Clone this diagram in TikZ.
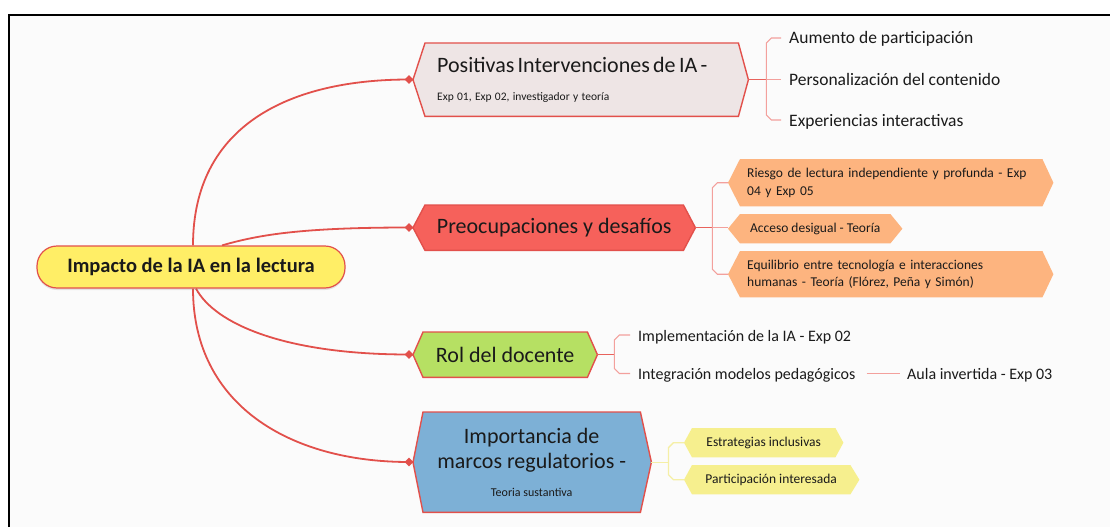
\documentclass[tikz,border=0pt]{standalone}
\usepackage{fontspec}
\setmainfont{Carlito}
\usetikzlibrary{shapes.geometric,calc,shadows}
\pgfdeclarelayer{back}
\pgfdeclarelayer{bg}
\pgfsetlayers{back,bg,main}
\definecolor{mainred}{HTML}{E2504B}
\definecolor{midred}{HTML}{E8625C}
\definecolor{pinkline}{HTML}{F3A09C}
\definecolor{n1fill}{HTML}{EEE5E5}
\definecolor{n2fill}{HTML}{F6615B}
\definecolor{n3fill}{HTML}{B6E063}
\definecolor{n4fill}{HTML}{7DB0D6}
\definecolor{orangefill}{HTML}{FDB47F}
\definecolor{yellowfill}{HTML}{F6EF8E}
\definecolor{yline}{HTML}{F5EFA6}
\definecolor{centerfill}{HTML}{FFEE66}
\definecolor{pagebg}{HTML}{FBFBFB}
\definecolor{txt}{HTML}{1A1A1A}
\newcommand\fsz[2]{\fontsize{#1}{#2}\selectfont}
\newcommand\hexbg[5]{%
  \begin{pgfonlayer}{bg}
  \path[fill=#4,draw=#5,line width=1.4pt,line join=miter] (#1.north west) -- (#1.north east) -- ($(#1.east)+(#3,0)$) -- (#1.south east) -- (#1.south west) -- ($(#1.west)+(-#2,0)$) -- cycle;
  \end{pgfonlayer}}
\tikzset{
  hexbox/.style={rectangle, inner sep=0pt, anchor=north west, text=txt},
  plain/.style={inner sep=0pt, anchor=base west, text=txt},
  mainline/.style={draw=mainred, line width=1.8pt},
  dot/.style={diamond, fill=mainred, inner sep=0pt, minimum size=9pt},
  stem/.style={draw=midred, line width=1.3pt},
  brk/.style={draw=pinkline, line width=1.1pt},
  ybrk/.style={draw=yline, line width=1.3pt},
}
\begin{document}
\begin{tikzpicture}[x=1pt,y=-1pt]
\useasboundingbox (0,0) rectangle (1110,527);
\begin{pgfonlayer}{back}
\fill[white] (0,0) rectangle (1110,527);
\fill[pagebg] (9,15) rectangle (1110,527);
\end{pgfonlayer}
\draw[black, line width=1.6pt] (9,527) -- (9,15) -- (1110,15);

% central node
\node[draw=mainred, fill=centerfill, line width=1.2pt, rounded corners=20pt,
      minimum width=308pt, minimum height=42pt, text=txt,
      drop shadow={shadow xshift=0pt, shadow yshift=-2pt, opacity=.2},
      font=\bfseries\fsz{20.5}{24}] (c) at (191,267) {Impacto de la IA en la lectura};

% main branch nodes
\node[hexbox, text width=289pt, inner xsep=12pt, minimum height=73pt, align=left] (n1) at (425,43)
  {\fsz{22}{26}\mbox{Positivas Intervenciones de IA -}\\[16pt]\fsz{11.5}{14}\mbox{Exp 01, Exp 02, investigador y teoría}};
\node[hexbox, minimum width=258pt, minimum height=45pt, font=\fsz{22}{26}] (n2) at (425,205) {Preocupaciones y desafíos};
\node[hexbox, minimum width=164pt, minimum height=45pt, font=\fsz{22}{26}] (n3) at (423,332) {Rol del docente};
\node[hexbox, minimum width=217pt, minimum height=100pt, align=center] (n4) at (423,412)
  {\fsz{22}{27}Importancia de\\[5pt]\fsz{22}{27}marcos regulatorios -\\[15pt]\fsz{12}{14}Teoria sustantiva};

\hexbg{n1}{12}{10}{n1fill}{mainred}
\hexbg{n2}{12}{12}{n2fill}{mainred}
\hexbg{n3}{10}{10}{n3fill}{mainred}
\hexbg{n4}{10}{11}{n4fill}{mainred}

% orange children
\node[hexbox, text width=288pt, inner xsep=7pt, minimum height=47pt, align=left, font=\fsz{13.5}{17.5}] (o1) at (740,159)
  {\mbox{Riesgo de lectura independiente y profunda - Exp}\\04 y Exp 05};
\node[hexbox, minimum width=150pt, minimum height=29pt, font=\fsz{13.5}{17.5}] (o2) at (740,214) {Acceso desigual - Teoría};
\node[hexbox, text width=288pt, inner xsep=7pt, minimum height=46pt, align=left, font=\fsz{13.5}{17}] (o3) at (740,251)
  {\mbox{Equilibrio entre tecnología e interacciones}\\\mbox{humanas - Teoría (Flórez, Peña y Simón)}};
\hexbg{o1}{12}{11}{orangefill}{none}
\hexbg{o2}{12}{12}{orangefill}{none}
\hexbg{o3}{12}{11}{orangefill}{none}

% yellow children
\node[hexbox, minimum width=143pt, minimum height=29pt, font=\fsz{13.5}{17}] (y1) at (692,428) {Estrategias inclusivas};
\node[hexbox, minimum width=158pt, minimum height=29pt, font=\fsz{13.5}{17}] (y2) at (692,465) {Participación interesada};
\hexbg{y1}{8}{8}{yellowfill}{none}
\hexbg{y2}{8}{9}{yellowfill}{none}

% plain text children
\node[plain, font=\fsz{17.5}{21}] (a1) at (789,44) {Aumento de participación};
\node[plain, font=\fsz{17.5}{21}] (a2) at (789,85) {Personalización del contenido};
\node[plain, font=\fsz{17.5}{21}] (a3) at (789,126) {Experiencias interactivas};
\node[plain, font=\fsz{16}{19}] (r1) at (638,341) {Implementación de la IA - Exp 02};
\node[plain, font=\fsz{16}{19}] (r2) at (638,379.5) {Integración modelos pedagógicos};
\node[plain, font=\fsz{16}{19}] (r3) at (907,379.5) {Aula invertida - Exp 03};

% diamonds and hexagon points
\node[dot] (d1) at (409,79.5) {};
\node[dot] (d2) at (409,227.5) {};
\node[dot] (d3) at (409,354.5) {};
\node[dot] (d4) at (409,462) {};
\coordinate (n1l) at ($(n1.west)+(-12,0)$);
\coordinate (n2l) at ($(n2.west)+(-12,0)$);
\coordinate (n3l) at ($(n3.west)+(-10,0)$);
\coordinate (n4l) at ($(n4.west)+(-10,0)$);
\coordinate (n1r) at ($(n1.east)+(10,0)$);
\coordinate (n2r) at ($(n2.east)+(12,0)$);
\coordinate (n3r) at ($(n3.east)+(10,0)$);
\coordinate (n4r) at ($(n4.east)+(11,0)$);
\coordinate (o1l) at ($(o1.west)+(-12,0)$);
\coordinate (o2l) at ($(o2.west)+(-12,0)$);
\coordinate (o3l) at ($(o3.west)+(-12,0)$);
\coordinate (y1l) at ($(y1.west)+(-8,0)$);
\coordinate (y2l) at ($(y2.west)+(-8,0)$);

% main curves
\begin{pgfonlayer}{bg}
\draw[mainline] ([xshift=2pt]c.north) .. controls (193,125) and (290,79.5) .. (d1.center);
\draw[mainline] ([xshift=31pt]c.north) .. controls (258,235) and (300,227.5) .. (d2.center);
\draw[mainline] ([xshift=5pt]c.south) .. controls (215,324) and (285,354.5) .. (d3.center);
\draw[mainline] ([xshift=2pt]c.south) .. controls (193,405) and (290,462) .. (d4.center);
\draw[mainline] (d1.center) -- (n1l);
\draw[mainline] (d2.center) -- (n2l);
\draw[mainline] (d3.center) -- (n3l);
\draw[mainline] (d4.center) -- (n4l);
\end{pgfonlayer}

% bracket 1
\coordinate (b1) at ($(n1r)+(18,0)$);
\coordinate (t11) at ([xshift=-8pt,yshift=6pt]a1.base west);
\coordinate (t12) at ([xshift=-8pt,yshift=6pt]a2.base west);
\coordinate (t13) at ([xshift=-8pt,yshift=6pt]a3.base west);
\draw[stem] (n1r) -- (b1);
\draw[brk] (t11) -- ($(b1 |- t11)+(5,0)$) -- ($(b1 |- t11)+(0,5)$) -- ($(b1 |- t13)+(0,-5)$) -- ($(b1 |- t13)+(5,0)$) -- (t13);
\draw[brk] (b1) -- (b1 -| t12);

% bracket 2
\coordinate (b2) at ($(n2r)+(17,0)$);
\draw[stem] (n2r) -- (b2);
\draw[brk] (o1l) -- ($(b2 |- o1l)+(5,0)$) -- ($(b2 |- o1l)+(0,5)$) -- ($(b2 |- o3l)+(0,-5)$) -- ($(b2 |- o3l)+(5,0)$) -- (o3l);
\draw[brk] (b2) -- (b2 -| o2l);

% bracket 3
\coordinate (b3) at ($(n3r)+(17,0)$);
\coordinate (t31) at ([xshift=-8pt,yshift=6pt]r1.base west);
\coordinate (t32) at ([xshift=-8pt,yshift=6pt]r2.base west);
\draw[stem] (n3r) -- (b3);
\draw[brk] (t31) -- ($(b3 |- t31)+(5,0)$) -- ($(b3 |- t31)+(0,5)$) -- ($(b3 |- t32)+(0,-5)$) -- ($(b3 |- t32)+(5,0)$) -- (t32);
\draw[brk] ([xshift=11pt,yshift=6pt]r2.base east) -- ([xshift=-7pt,yshift=6pt]r3.base west);

% bracket 4
\coordinate (b4) at ($(n4r)+(17,0)$);
\draw[ybrk] (n4r) -- (b4);
\draw[ybrk] (y1l) -- ($(b4 |- y1l)+(5,0)$) -- ($(b4 |- y1l)+(0,5)$) -- ($(b4 |- y2l)+(0,-5)$) -- ($(b4 |- y2l)+(5,0)$) -- (y2l);
\end{tikzpicture}
\end{document}
